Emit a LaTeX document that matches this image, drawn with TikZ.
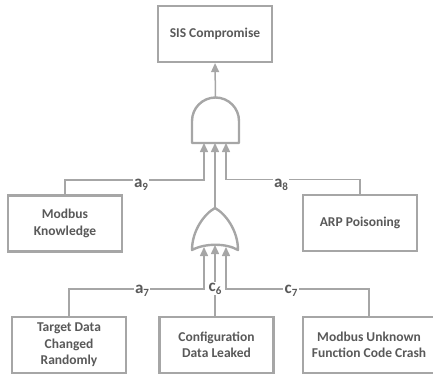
\documentclass[tikz,border=0pt]{standalone}
\usepackage{fontspec}
\setmainfont{Carlito}
\usetikzlibrary{arrows.meta}
\definecolor{gline}{RGB}{166,166,166}
\definecolor{gtext}{RGB}{89,89,89}
\newcommand{\evlab}[2]{#1\raisebox{-0.35ex}{\fontsize{11}{11}\selectfont #2}}

\begin{document}
\begin{tikzpicture}
            [x=1pt,y=-1pt,every node/.style={font=\bfseries\fontsize{13.5}{16.5}\selectfont,text=gtext},
             evbox/.style={draw=gline,line width=2.2pt,fill=white,align=center,minimum width=114pt,minimum height=56pt,inner sep=0pt},
             gate/.style={draw=gline,line width=2.4pt,line join=round},
             inarrow/.style={draw=gline,line width=1.5pt,-{Triangle[length=9pt,width=8pt]}},
             lbl/.style={fill=white,inner xsep=1.5pt,inner ysep=1pt,font=\bfseries\fontsize{17}{17}\selectfont}]

            \useasboundingbox (0,0) rectangle (433,375);

            \node[evbox] (sis) at (215,34) {SIS Compromise};
            \node[evbox] (mk) at (65,223.5) {Modbus\\Knowledge};
            \node[evbox] (arp) at (360,223) {ARP Poisoning};
            \node[evbox] (tdc) at (69,345) {Target Data\\Changed\\Randomly};
            \node[evbox] (cdl) at (216.5,345) {Configuration\\Data Leaked};
            \node[evbox,minimum width=132pt] (muf) at (369,345) {Modbus Unknown\\Function Code Crash};

            \coordinate (andout) at (215.5,98);
            \coordinate (and1) at (204,143);
            \coordinate (and2) at (215,143);
            \coordinate (and3) at (226,143);
            \coordinate (orout) at (215,208);
            \coordinate (or1) at (204,247);
            \coordinate (or2) at (215,245);
            \coordinate (or3) at (226,247);

            % gates
            \draw[gate] (192,143) -- (192,121) arc[start angle=180,end angle=360,radius=23.5] -- (239,143) -- cycle;
            \draw[gate] (orout) .. controls (204,214) and (192,231) .. (192,250) .. controls (205,243) and (226,243) .. (238,250) .. controls (238,231) and (226,214) .. (orout) -- cycle;

            \draw[inarrow] (andout) -- (sis.south);
            \draw[inarrow] (mk.north) -- ++(0,-14.5) -| (and1);
            \draw[inarrow] (orout) -- (and2);
            \draw[inarrow] (arp.north) -- ++(0,-14.5) -| (and3);
            \draw[inarrow] (tdc.north) -- ++(0,-27) -| (or1);
            \draw[inarrow] (cdl.north -| or2) -- (or2);
            \draw[inarrow] (muf.north) -- ++(0,-27) -| (or3);

            \node[lbl] (a9) at (141,184.5) {\evlab{a}{9}};
            \node[lbl] (a8) at (281,184.5) {\evlab{a}{8}};
            \node[lbl] (a7) at (142,290.5) {\evlab{a}{7}};
            \node[lbl] (c6) at (215,288.5) {\evlab{c}{6}};
            \node[lbl] (c7) at (291,290.5) {\evlab{c}{7}};
          \end{tikzpicture}
\end{document}
